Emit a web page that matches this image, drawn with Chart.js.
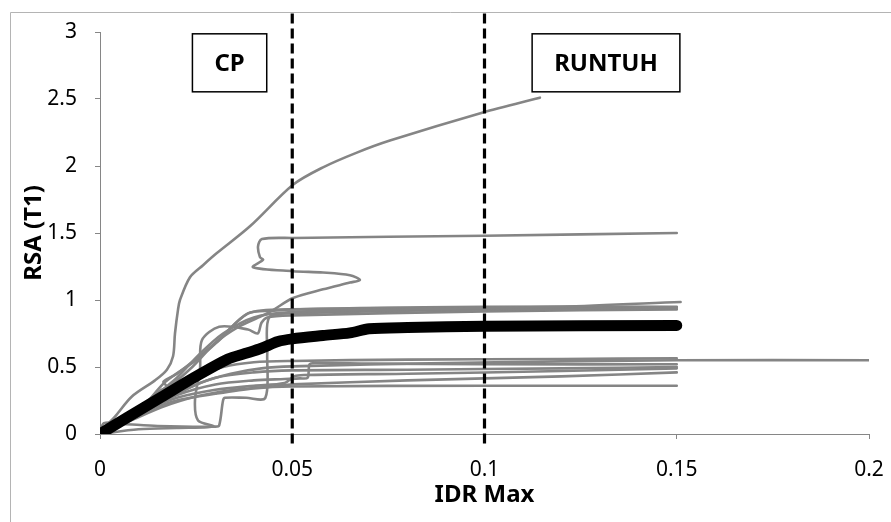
<!DOCTYPE html>
<html>
<head>
<meta charset="utf-8">
<script src="https://cdn.jsdelivr.net/npm/chart.js@4.4.1/dist/chart.umd.min.js"></script>
<style>
  html, body { margin: 0; padding: 0; background: #fff; }
</style>
</head>
<body>
<canvas id="idaChart" width="891" height="522"></canvas>
<script>
// IDA curves: IDR max (x) vs RSA(T1) (y), one pair of arrays per record
const idrA = [0, 0.0013, 0.0039, 0.0083, 0.0143, 0.0174, 0.019, 0.0195, 0.0203, 0.0208, 0.0234, 0.0268, 0.0304, 0.039, 0.0502, 0.058, 0.0668, 0.0754, 0.0996, 0.1144];
const rsaA = [0, 0.05, 0.13, 0.28, 0.40, 0.48, 0.58, 0.75, 0.93, 1.0, 1.17, 1.26, 1.35, 1.55, 1.86, 1.99, 2.10, 2.19, 2.40, 2.51];

const idrB = [0, 0.008, 0.016, 0.024, 0.03, 0.036, 0.042, 0.045, 0.0502, 0.058, 0.065, 0.0676, 0.065, 0.058, 0.0502, 0.0398, 0.0424, 0.0416, 0.0411, 0.0421, 0.0502, 0.1, 0.15];
const rsaB = [0, 0.12, 0.3, 0.5, 0.68, 0.8, 0.88, 0.925, 1.015, 1.08, 1.13, 1.15, 1.185, 1.205, 1.215, 1.245, 1.30, 1.32, 1.40, 1.455, 1.463, 1.48, 1.5];

const idrC = [0, 0.008, 0.015, 0.02, 0.026, 0.032, 0.04, 0.05, 0.08, 0.12, 0.151];
const rsaC = [0, 0.13, 0.3, 0.42, 0.6, 0.75, 0.87, 0.91, 0.93, 0.95, 0.985];

const idrD = [0, 0.01, 0.017, 0.025, 0.031, 0.0385, 0.05, 0.1, 0.15];
const rsaD = [0, 0.17, 0.39, 0.55, 0.7, 0.9, 0.93, 0.95, 0.95];

const idrE = [0, 0.001, 0.006, 0.015, 0.03, 0.031, 0.032, 0.0325, 0.038, 0.043, 0.0435, 0.044, 0.05, 0.1, 0.15];
const rsaE = [0, 0.08, 0.075, 0.06, 0.055, 0.065, 0.25, 0.27, 0.27, 0.27, 0.6, 0.87, 0.9, 0.93, 0.94];

const idrF = [0, 0.01, 0.02, 0.028, 0.0295, 0.0255, 0.0247, 0.026, 0.0265, 0.031, 0.0385, 0.041, 0.042, 0.0435, 0.05, 0.1, 0.15];
const rsaF = [0, 0.035, 0.045, 0.05, 0.06, 0.1, 0.25, 0.48, 0.7, 0.8, 0.78, 0.75, 0.83, 0.87, 0.885, 0.915, 0.93];

const idrN = [0, 0.006, 0.0125, 0.016, 0.0175, 0.0165, 0.02, 0.03, 0.0385, 0.045, 0.05, 0.1, 0.15];
const rsaN = [0, 0.1, 0.25, 0.33, 0.35, 0.39, 0.45, 0.68, 0.9, 0.92, 0.93, 0.945, 0.945];

const idrG = [0, 0.008, 0.016, 0.024, 0.032, 0.04, 0.05, 0.08, 0.12, 0.15];
const rsaG = [0, 0.14, 0.3, 0.42, 0.5, 0.535, 0.545, 0.555, 0.56, 0.565];

const idrH = [0, 0.009, 0.018, 0.026, 0.034, 0.042, 0.05, 0.09, 0.15, 0.2];
const rsaH = [0, 0.13, 0.27, 0.38, 0.45, 0.49, 0.505, 0.53, 0.55, 0.55];

const idrI = [0, 0.01, 0.02, 0.03, 0.04, 0.048, 0.052, 0.054, 0.0545, 0.056, 0.07, 0.1, 0.15];
const rsaI = [0, 0.15, 0.29, 0.37, 0.4, 0.41, 0.415, 0.42, 0.52, 0.53, 0.525, 0.52, 0.52];

const idrJ = [0, 0.012, 0.022, 0.03, 0.04, 0.05, 0.08, 0.12, 0.15];
const rsaJ = [0, 0.19, 0.33, 0.42, 0.46, 0.475, 0.48, 0.49, 0.5];

const idrK = [0, 0.01, 0.02, 0.03, 0.04, 0.048, 0.0505, 0.053, 0.08, 0.12, 0.15];
const rsaK = [0, 0.16, 0.27, 0.33, 0.36, 0.38, 0.43, 0.44, 0.45, 0.47, 0.49];

const idrL = [0, 0.012, 0.02, 0.03, 0.04, 0.05, 0.1, 0.15];
const rsaL = [0, 0.17, 0.25, 0.3, 0.34, 0.355, 0.36, 0.36];

const idrM = [0, 0.008, 0.016, 0.025, 0.035, 0.045, 0.05, 0.08, 0.12, 0.15];
const rsaM = [0, 0.1, 0.2, 0.28, 0.33, 0.355, 0.37, 0.4, 0.43, 0.46];

// median curve (thick black)
const idrMedian = [0, 0.0073, 0.016, 0.0247, 0.0333, 0.0377, 0.042, 0.0463, 0.05, 0.058, 0.065, 0.07, 0.08, 0.1, 0.15];
const rsaMedian = [0, 0.127, 0.276, 0.425, 0.56, 0.60, 0.64, 0.69, 0.71, 0.735, 0.755, 0.785, 0.795, 0.805, 0.81];

// performance limits (dashed verticals)
const limitIdr = [0.05, 0.1];
const limitRsaSpan = [-0.07, 3.15];

// zone labels
const zoneLabels = ["CP", "RUNTUH"];
const zoneLabelIdr = [0.0337, 0.1316];
const zoneLabelRsa = [2.77, 2.77];

const idrTicks = [0, 0.05, 0.1, 0.15, 0.2];
const rsaTicks = [0, 0.5, 1, 1.5, 2, 2.5, 3];

const grayRecords = [
  [idrA, rsaA], [idrB, rsaB], [idrC, rsaC], [idrD, rsaD], [idrE, rsaE],
  [idrF, rsaF], [idrN, rsaN], [idrG, rsaG], [idrH, rsaH], [idrI, rsaI],
  [idrJ, rsaJ], [idrK, rsaK], [idrL, rsaL], [idrM, rsaM]
];

function toPoints(xs, ys) {
  return xs.map((v, i) => ({ x: v, y: ys[i] }));
}

const datasets = [];
limitIdr.forEach((v) => {
  datasets.push({
    data: limitRsaSpan.map((r) => ({ x: v, y: r })),
    borderColor: "#000",
    borderWidth: 3.2,
    borderDash: [10, 5],
    clip: false,
    order: 0,
  });
});
datasets.push({
  data: toPoints(idrMedian, rsaMedian),
  borderColor: "#000",
  borderWidth: 11,
  borderCapStyle: "round",
  borderJoinStyle: "round",
  tension: 0.3,
  order: 1,
});
grayRecords.forEach(([xs, ys]) => {
  datasets.push({
    data: toPoints(xs, ys),
    borderColor: "#858585",
    borderWidth: 2.6,
    borderCapStyle: "round",
    tension: 0.3,
    order: 2,
  });
});

const framePlugin = {
  id: "frame",
  beforeDraw(chart) {
    const ctx = chart.ctx;
    ctx.save();
    ctx.fillStyle = "#fff";
    ctx.fillRect(0, 0, chart.width, chart.height);
    ctx.strokeStyle = "#b4b4b4";
    ctx.lineWidth = 1;
    ctx.beginPath();
    ctx.moveTo(10.5, chart.height);
    ctx.lineTo(10.5, 12.5);
    ctx.lineTo(chart.width, 12.5);
    ctx.stroke();
    ctx.restore();
  },
};

const zoneBoxPlugin = {
  id: "zoneBoxes",
  afterDatasetsDraw(chart) {
    const ctx = chart.ctx;
    const x = chart.scales.x, y = chart.scales.y;
    ctx.save();
    ctx.font = 'bold 24px "Noto Sans"';
    zoneLabels.forEach((txt, i) => {
      const cx = x.getPixelForValue(zoneLabelIdr[i]);
      const cy = y.getPixelForValue(zoneLabelRsa[i]);
      const w = ctx.measureText(txt).width + 44;
      const h = 58;
      ctx.fillStyle = "#fff";
      ctx.fillRect(cx - w / 2, cy - h / 2, w, h);
      ctx.strokeStyle = "#000";
      ctx.lineWidth = 1.5;
      ctx.strokeRect(cx - w / 2, cy - h / 2, w, h);
      ctx.fillStyle = "#000";
      ctx.textAlign = "center";
      ctx.textBaseline = "middle";
      ctx.fillText(txt, cx, cy + 1);
    });
    ctx.restore();
  },
};

const axisColor = "#868686";
const tickFont = { family: "Noto Sans", size: 21 };
const titleFont = { family: "Noto Sans", size: 24, weight: "bold" };

new Chart(document.getElementById("idaChart"), {
  type: "scatter",
  data: { datasets: datasets },
  options: {
    responsive: false,
    animation: false,
    showLine: true,
    elements: { point: { radius: 0, hoverRadius: 0 } },
    layout: { padding: { top: 32, right: 0, left: 0, bottom: 0 } },
    plugins: { legend: { display: false }, tooltip: { enabled: false } },
    scales: {
      x: {
        type: "linear",
        min: 0,
        max: 0.2,
        afterFit: (s) => { s.height = 88; s.paddingLeft = 0; s.paddingRight = 22; },
        afterBuildTicks: (s) => { s.ticks = idrTicks.map((v) => ({ value: v })); },
        ticks: { color: "#000", font: tickFont, padding: 18, callback: (v) => String(+v.toFixed(2)) },
        grid: { drawOnChartArea: false, tickLength: 5, tickColor: axisColor },
        border: { color: axisColor, width: 1 },
        title: { display: true, text: "IDR Max", color: "#000", font: titleFont, padding: { top: 0, bottom: 12 } },
      },
      y: {
        type: "linear",
        min: 0,
        max: 3,
        afterFit: (s) => { s.width = 100; s.paddingTop = 0; s.paddingBottom = 0; },
        afterBuildTicks: (s) => { s.ticks = rsaTicks.map((v) => ({ value: v })); },
        ticks: { color: "#000", font: tickFont, padding: 18, callback: (v) => String(v) },
        grid: { drawOnChartArea: false, tickLength: 5, tickColor: axisColor },
        border: { color: axisColor, width: 1 },
        title: { display: true, text: "RSA (T1)", color: "#000", font: titleFont, padding: { top: 20, bottom: 0 } },
      },
    },
  },
  plugins: [framePlugin, zoneBoxPlugin],
});
</script>
</body>
</html>
